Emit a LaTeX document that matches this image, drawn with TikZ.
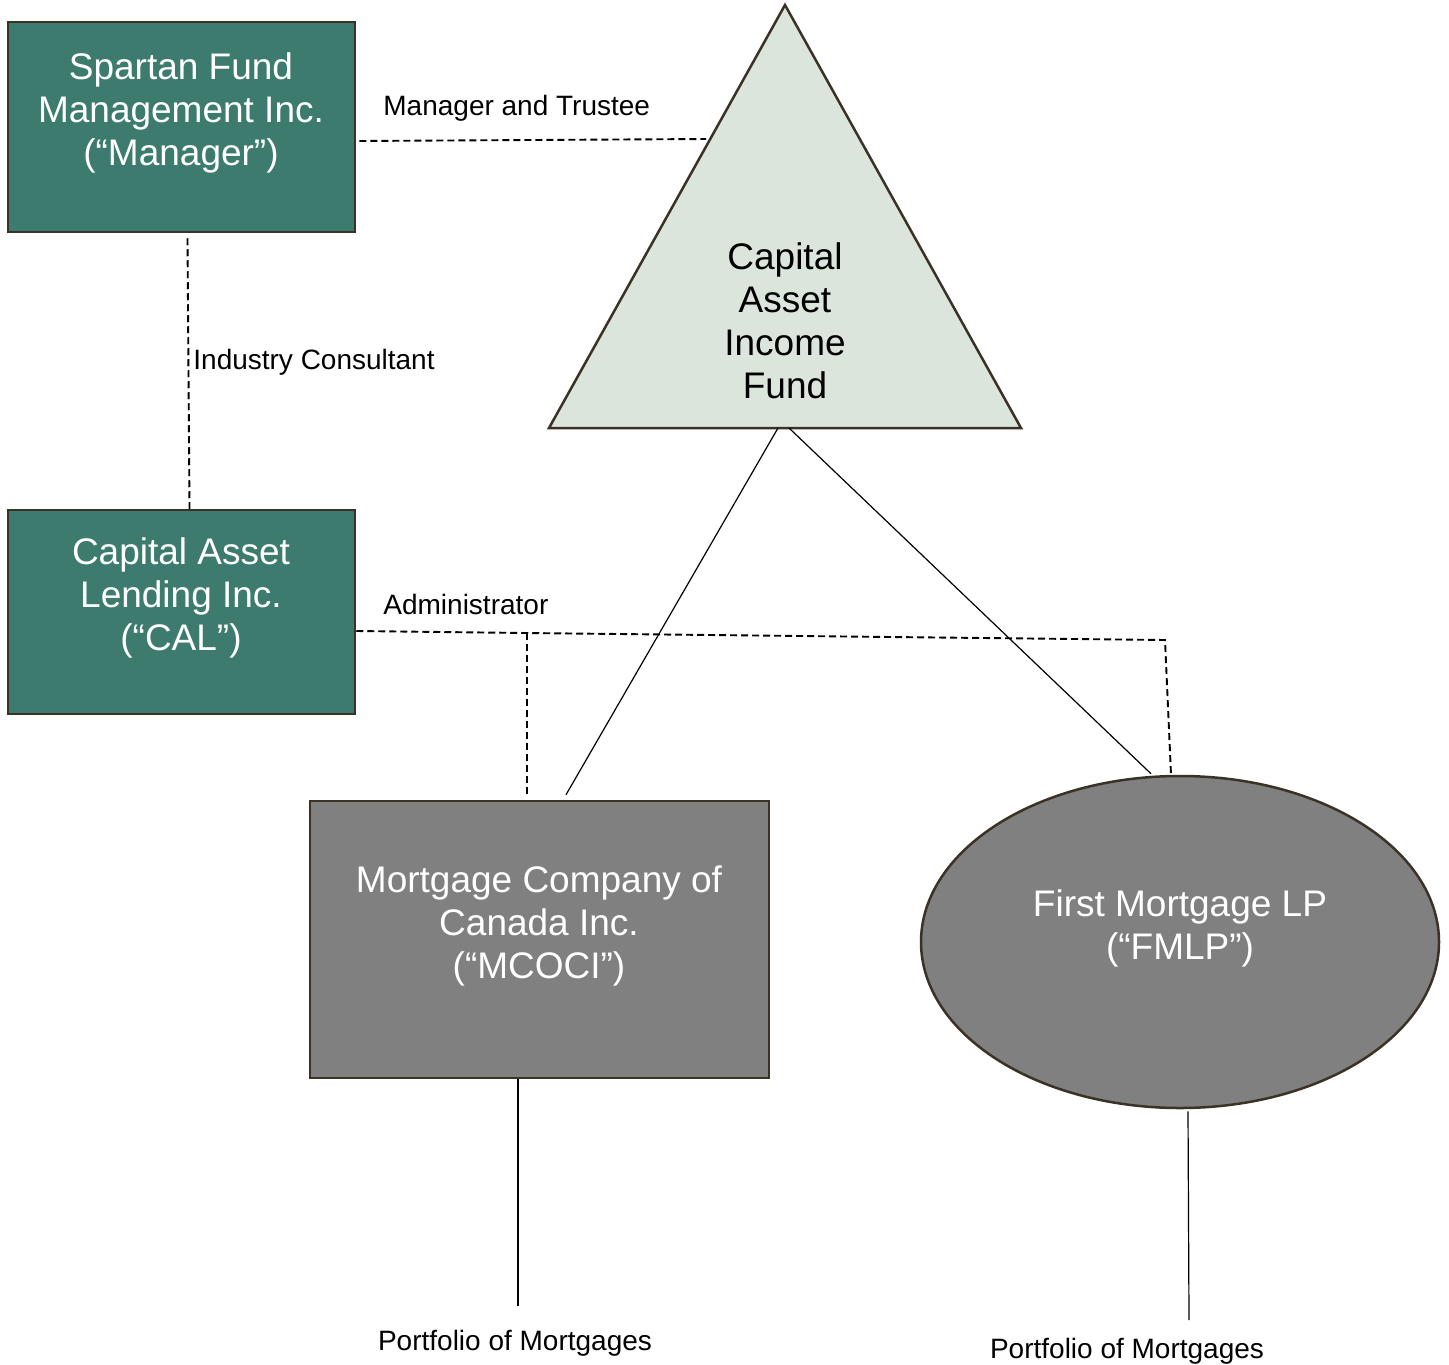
\documentclass[tikz,border=0pt]{standalone}
\usepackage{fontspec}
\setmainfont{Liberation Sans}
\usetikzlibrary{shapes.geometric}
\definecolor{teal1}{HTML}{3D7B6F}
\definecolor{tri}{HTML}{DCE5DC}
\definecolor{grayfill}{HTML}{808080}
\definecolor{edge}{HTML}{3A3226}
\begin{document}
\begin{tikzpicture}[x=0.5pt,y=-0.5pt,
  boxstyle/.style={draw=edge,line width=1.25pt,inner sep=0pt},
  big/.style={font=\fontsize{18.5}{21.5}\selectfont,align=center,inner sep=0pt},
  small/.style={font=\fontsize{14}{16}\selectfont,inner sep=0pt},
  dline/.style={dash pattern=on 3.5pt off 2pt,line width=0.95pt},
  sline/.style={line width=0.6pt}]
\useasboundingbox (0,0) rectangle (1449,1364);

% boxes
\node[boxstyle,fill=teal1,minimum width=173.5pt,minimum height=105pt] (spartan) at (181.5,127) {};
\node[big,text=white] (spartanT) at (181,113) {Spartan Fund\\Management Inc.\\(“Manager”)};
\node[boxstyle,fill=teal1,minimum width=173.5pt,minimum height=102pt] (cal) at (181.5,612) {};
\node[big,text=white] (calT) at (181,598) {Capital Asset\\Lending Inc.\\(“CAL”)};
\node[boxstyle,fill=grayfill,minimum width=229.5pt,minimum height=138.5pt] (mcoci) at (539.5,939.5) {};
\node[big,text=white] (mcociT) at (539,926) {Mortgage Company of\\Canada Inc.\\(“MCOCI”)};
\node[boxstyle,ellipse,fill=grayfill,minimum width=259pt,minimum height=166pt] (fmlp) at (1180,942) {};
\node[big,text=white] (fmlpT) at (1180,928) {First Mortgage LP\\(“FMLP”)};

% triangle
\coordinate (apex) at (785,5);
\coordinate (bl) at (549,428);
\coordinate (br) at (1021,428);
\draw[draw=edge,line width=1.25pt,fill=tri] (apex) -- (br) -- (bl) -- cycle;
\node[big,text=black] (fund) at (785,321) {Capital\\Asset\\Income\\Fund};
\coordinate (tleft) at (706,139);
\coordinate (tb1) at (778,428);
\coordinate (tb2) at (789,428);

% labels
\node[small,anchor=west] (lblMT) at (383,108) {Manager and Trustee};
\node[small,anchor=west] (lblIC) at (193,362) {Industry Consultant};
\node[small,anchor=west] (lblAd) at (383,604) {Administrator};
\node[small] (port1) at (515,1343) {Portfolio of Mortgages};
\node[small] (port2) at (1127,1351) {Portfolio of Mortgages};

% connectors
\draw[dline] ([yshift=-7pt,xshift=1.5pt]spartan.east) -- (tleft);
\draw[dline] ([xshift=3pt,yshift=-2.5pt]spartan.south) -- ([xshift=4pt]cal.north);
\coordinate (adm1) at (527,633);
\coordinate (adm2) at (1165,640);
\draw[dline] ([yshift=-9.5pt]cal.east) -- (adm1) -- (adm2) -- ([xshift=-4.5pt]fmlp.north);
\draw[dline] (adm1) -- ([xshift=-6.25pt,yshift=3pt]mcoci.north);
\draw[sline] (tb1) -- ([xshift=13.25pt,yshift=2.5pt]mcoci.north);
\draw[sline] (tb2) -- ([xshift=-14.5pt,yshift=0.5pt]fmlp.north);
\coordinate (p1top) at (518,1306);
\coordinate (p2top) at (1189,1320);
\draw[sline] ([xshift=-10.75pt]mcoci.south) -- (p1top);
\draw[sline] ([xshift=4pt,yshift=-1pt]fmlp.south) -- (p2top);
\end{tikzpicture}
\end{document}
